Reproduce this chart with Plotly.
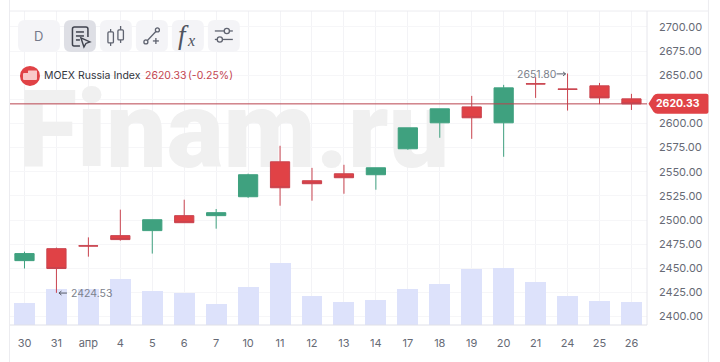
import plotly.graph_objects as go

W, H = 720, 362
L, R, T, B = 10, 647.5, 10, 324.5
OFF = 1

labels = ["30", "31", "апр", "4", "5", "6", "7", "10", "11", "12", "13", "14", "17", "18", "19", "20", "21", "24", "25", "26"]
opens = [2457.9, 2470.3, 2473.2, 2483.8, 2489.0, 2504.5, 2504.5, 2524.1, 2560.3, 2540.7, 2547.9, 2546.9, 2573.8, 2600.7, 2617.2, 2600.7, 2641.1, 2635.6, 2639.0, 2625.5]
highs = [2467.2, 2471.4, 2482.0, 2510.7, 2500.3, 2521.0, 2511.4, 2548.0, 2576.9, 2554.0, 2557.2, 2554.1, 2595.5, 2615.2, 2628.6, 2640.0, 2648.0, 2651.8, 2642.0, 2630.7]
lows = [2449.7, 2424.53, 2462.0, 2478.6, 2465.2, 2497.2, 2491.0, 2523.0, 2514.8, 2520.0, 2527.2, 2531.4, 2572.8, 2585.2, 2584.1, 2565.5, 2626.5, 2613.4, 2620.0, 2614.0]
closes = [2465.2, 2449.7, 2473.1, 2479.7, 2500.3, 2497.2, 2507.6, 2546.9, 2533.4, 2537.6, 2543.8, 2554.1, 2595.5, 2615.2, 2605.9, 2636.9, 2641.0, 2635.5, 2626.5, 2620.33]
volumes = [22.5, 36.5, 36.5, 46.5, 34.5, 32.5, 21.5, 38.5, 62.5, 29.5, 23.5, 25.5, 36.5, 41.5, 56.5, 57.5, 43.5, 29.5, 24.5, 23.5]
price_ticks = [2400 + 25 * i for i in range(13)]

RED, GREEN = "#E04246", "#3FA17F"
xs = list(range(len(labels)))
px_per_unit = 0.9667
pmin = 2400 - (B - 316) / px_per_unit
pmax = 2400 + (316 - T) / px_per_unit
xmin = (L - 24.5) / 31.97
xmax = (R - 24.5) / 31.97


def fx(p):
    return (p - L) / (R - L)


def fy(p):
    return (B - p) / (B - T)


def path(d, **kw):
    """Pixel path -> paper-ref path. d is a list of commands/points."""
    out = []
    for item in d:
        if isinstance(item, str):
            out.append(item)
        else:
            out.append(f"{fx(item[0]):.5f},{fy(item[1]):.5f}")
    return dict(type="path", xref="paper", yref="paper", path=" ".join(out), **kw)


def rrect(x0, y0, x1, y1, r, **kw):
    return path(["M", (x0 + r, y0), "L", (x1 - r, y0), "Q", (x1, y0), (x1, y0 + r), "L", (x1, y1 - r),
                 "Q", (x1, y1), (x1 - r, y1), "L", (x0 + r, y1), "Q", (x0, y1), (x0, y1 - r), "L", (x0, y0 + r),
                 "Q", (x0, y0), (x0 + r, y0), "Z"], **kw)


def line(x0, y0, x1, y1, color="#5f6370", width=1.3):
    return dict(type="line", xref="paper", yref="paper", x0=fx(x0), x1=fx(x1), y0=fy(y0), y1=fy(y1),
                line=dict(color=color, width=width))


def circle(cx, cy, r, fill="rgba(0,0,0,0)", color="#5f6370", width=1.3):
    return dict(type="circle", xref="paper", yref="paper", x0=fx(cx - r), x1=fx(cx + r), y0=fy(cy - r), y1=fy(cy + r),
                fillcolor=fill, line=dict(color=color, width=width))


def label(x, y, text, size=11, color="#666a75", anchor="left", family="Inter", **kw):
    return dict(xref="paper", yref="paper", x=fx(x), y=fy(y), text=text, showarrow=False, xanchor=anchor,
                yanchor="middle", font=dict(size=size, color=color, family=family), **kw)


shapes = [
    line(9.5, -1, 9.5, H, "#ececf0", 1),
    line(709, -1, 709, H, "#ececf0", 1),
    line(L, 10, 709, 10, "#ececf0", 1),
    line(R, 10, R, B, "#e6e6ec", 1),
    line(L, B, R, B, "#dfe0e8", 1),
    dict(type="line", xref="paper", yref="y2", x0=0, x1=1, y0=closes[-1], y1=closes[-1],
         line=dict(color="#B9444F", width=1)),
    # price tag
    path(["M", (649, 103), "L", (654, 95), "Q", (655.5, 93), (658, 93), "L", (707, 93), "Q", (709, 93), (709, 95),
          "L", (709, 111), "Q", (709, 113), (707, 113), "L", (658, 113), "Q", (655.5, 113), (654, 111), "Z"],
         fillcolor=RED, line=dict(width=0)),
    # toolbar buttons
    rrect(18, 19, 60, 51, 7, fillcolor="#F4F4F7", line=dict(width=0)),
    rrect(64, 19, 96, 51, 7, fillcolor="#DEDFE5", line=dict(width=0)),
    rrect(100, 19, 132, 51, 7, fillcolor="#F4F4F7", line=dict(width=0)),
    rrect(136, 19, 168, 51, 7, fillcolor="#F4F4F7", line=dict(width=0)),
    rrect(172, 19, 204, 51, 7, fillcolor="#F4F4F7", line=dict(width=0)),
    rrect(208, 19, 240, 51, 7, fillcolor="#F4F4F7", line=dict(width=0)),
    # document icon
    path(["M", (80, 45), "L", (74, 45), "Q", (72.5, 45), (72.5, 43), "L", (72.5, 28), "Q", (72.5, 26), (74.5, 26),
          "L", (86, 26), "Q", (88, 26), (88, 28), "L", (88, 36)], line=dict(color="#3f424d", width=1.5)),
    line(76, 31, 84, 31, "#3f424d", 1.5),
    line(76, 35, 84, 35, "#3f424d", 1.5),
    line(76, 39, 80, 39, "#3f424d", 1.5),
    path(["M", (81, 37), "L", (90, 41), "L", (86, 42.5), "L", (84, 46), "Z"], line=dict(color="#3f424d", width=1.4)),
    # candles icon
    rrect(108, 31, 113.5, 42, 1, line=dict(color="#5f6370", width=1.3)),
    line(110.7, 28, 110.7, 31), line(110.7, 42, 110.7, 45),
    rrect(118, 29, 123.5, 39, 1, line=dict(color="#5f6370", width=1.3)),
    line(120.7, 25, 120.7, 29), line(120.7, 39, 120.7, 42),
    # line tool icon
    circle(146, 41, 2), circle(157.5, 29, 2),
    line(147.5, 39.5, 156, 30.5),
    line(153, 40, 159, 40), line(156, 37, 156, 43),
    # settings icon
    line(215, 30, 233, 30), line(215, 38.5, 233, 38.5),
    circle(227, 30, 2.6, "#F4F4F7"), circle(220, 38.5, 2.6, "#F4F4F7"),
    # logo
    circle(30, 75, 10, RED, RED, 0),
    rrect(23, 72, 37, 79, 1, fillcolor="#F9C9C9", line=dict(width=0)),
    rrect(28, 69.5, 37, 73, 0.5, fillcolor="#F9C9C9", line=dict(width=0)),
    # arrows beside the extreme labels
    line(557, 73, 566, 73, "#555a66", 1),
    path(["M", (563.5, 71), "L", (566, 73), "L", (563.5, 75)], line=dict(color="#555a66", width=1)),
    line(59, 292.5, 67, 292.5, "#555a66", 1),
    path(["M", (61.5, 290.5), "L", (59, 292.5), "L", (61.5, 294.5)], line=dict(color="#555a66", width=1)),
]

annotations = [
    label(39, 35, "D", 13, "#75798a", "center"),
    label(184, 34, "<i>f</i>", 27, "#4f5360", "center", "Liberation Serif"),
    label(191.5, 40, "<i>x</i>", 16, "#4f5360", "center", "Liberation Serif"),
    label(42, 75, "MOEX Russia Index", 10.5, "#33353d"),
    label(143, 75, "2620.33", 10.5, "#C4454F"),
    label(186, 75, "(-0.25%)", 10.5, "#C4454F"),
    label(679, 103, "<b>2620.33</b>", 10.5, "#ffffff", "center"),
    label(515, 74, "2651.80", 10.5, "#7b7f8b"),
    label(69, 293, "2424.53", 10.5, "#7b7f8b"),
]

fig = go.Figure()
fig.add_trace(go.Bar(x=xs, y=volumes, width=21 / 32, marker=dict(color="#DDE2FB", line=dict(width=0)),
                     yaxis="y", showlegend=False, hoverinfo="skip"))
fig.add_trace(go.Scatter(x=[6.55], y=[185], mode="text", text=["Finam.ru"], yaxis="y",
                         textposition="middle center", hoverinfo="skip", showlegend=False,
                         textfont=dict(size=107, color="#F0F0F0", family="Roboto", weight=900)))
fig.add_trace(go.Candlestick(x=xs, open=opens, high=highs, low=lows, close=closes, yaxis="y2",
                             whiskerwidth=0, showlegend=False,
                             increasing=dict(fillcolor=GREEN, line=dict(color=GREEN, width=1)),
                             decreasing=dict(fillcolor=RED, line=dict(color="#C9434E", width=1))))

fig.update_layout(
    width=W, height=H, autosize=False,
    margin=dict(l=L, r=W - R, t=T + OFF, b=H - B - OFF, pad=0),
    paper_bgcolor="white", plot_bgcolor="white",
    font=dict(family="Inter", size=11, color="#666a75"),
    bargap=0, boxmode="overlay", boxgap=0.14,
    shapes=shapes, annotations=annotations, showlegend=False,
    xaxis=dict(range=[xmin, xmax], tickmode="array", tickvals=xs, ticktext=labels, showgrid=True,
               gridcolor="#F3F3F6", gridwidth=1, zeroline=False, showline=False, ticks="",
               ticklabelstandoff=10, tickfont=dict(size=11, color="#666a75", family="Inter"),
               rangeslider=dict(visible=False), fixedrange=True),
    yaxis=dict(range=[0, B - T], visible=False, fixedrange=True),
    yaxis2=dict(range=[pmin, pmax], overlaying="y", side="right", tickmode="array", tickvals=price_ticks,
                ticktext=[f"{v:.2f}" for v in price_ticks], showgrid=True, gridcolor="#F6F6F8", gridwidth=1,
                zeroline=False, showline=False, ticks="", ticklabelstandoff=11,
                tickfont=dict(size=11, color="#666a75", family="Inter"), fixedrange=True),
)

fig.write_html("out.html", config=dict(displayModeBar=False),
               post_script="document.body.style.margin='0';document.body.style.overflow='hidden';")
